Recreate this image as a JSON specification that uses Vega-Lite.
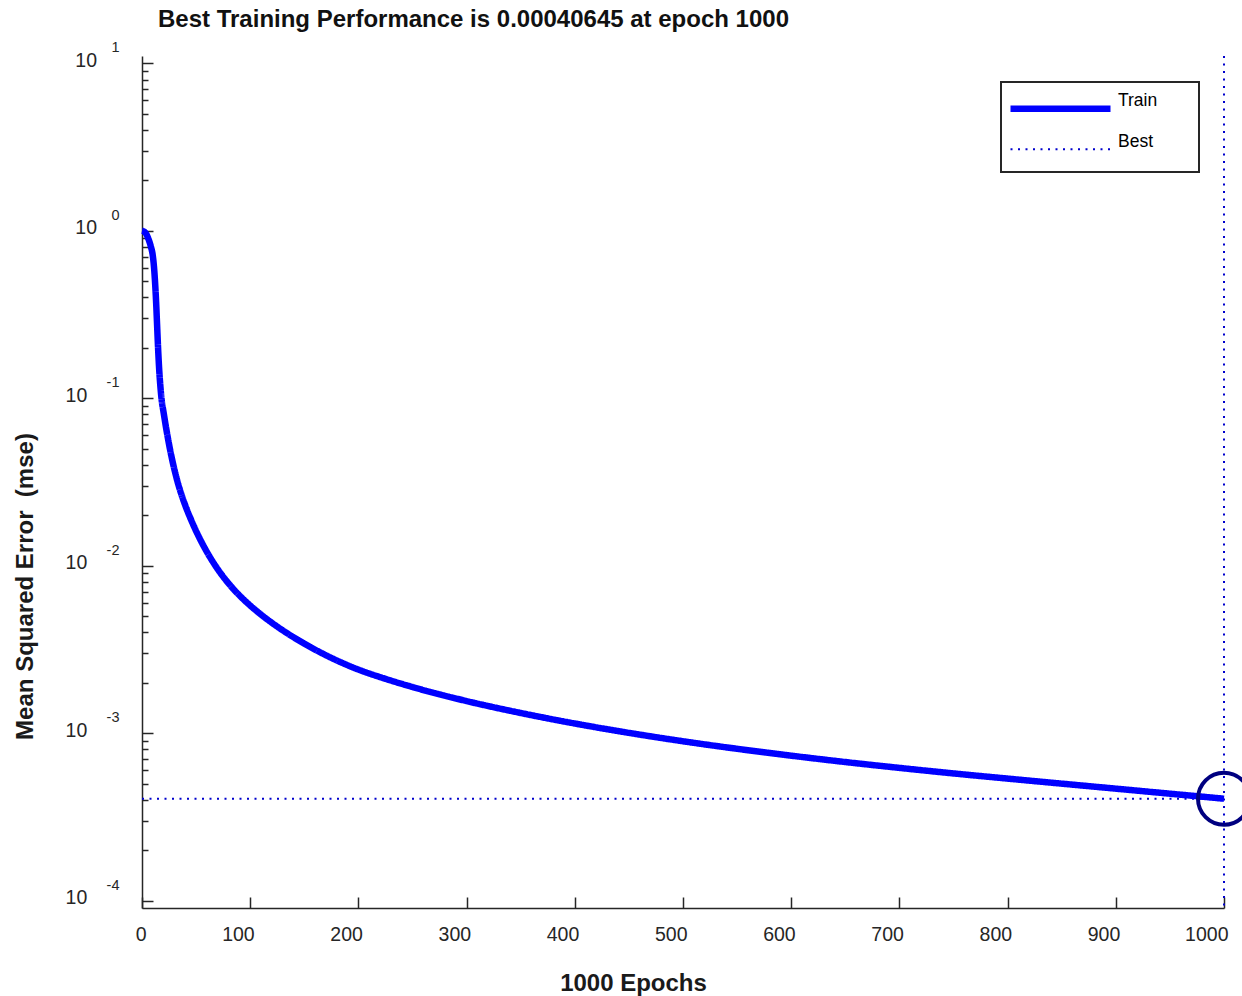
{
  "$schema": "https://vega.github.io/schema/vega-lite/v6.json",
  "width": 1082,
  "height": 852,
  "autosize": {"type": "none"},
  "padding": {"left": 142, "top": 56, "right": 18, "bottom": 88},
  "config": {
    "view": {"stroke": null},
    "font": "Liberation Sans",
    "axis": {"grid": false, "labelFlush": false, "labelOverlap": false, "labelBound": false, "domainColor": "#262626", "tickColor": "#262626", "labelColor": "#262626", "domainWidth": 1.5, "tickWidth": 1.5, "titleColor": "#1a1a1a", "labelFont": "Liberation Sans", "titleFont": "Liberation Sans"}
  },
  "title": {
    "text": "Best Training Performance is 0.00040645 at epoch 1000",
    "anchor": "start",
    "frame": "group",
    "dx": 16,
    "offset": -11,
    "baseline": "alphabetic",
    "fontSize": 24,
    "fontWeight": "bold",
    "color": "#111111",
    "font": "Liberation Sans"
  },
  "datasets": {
    "train": [
      {"epoch": 0, "mse": 1.0, "series": "Train"},
      {"epoch": 2, "mse": 0.9886, "series": "Train"},
      {"epoch": 4, "mse": 0.955, "series": "Train"},
      {"epoch": 6, "mse": 0.8913, "series": "Train"},
      {"epoch": 8, "mse": 0.8128, "series": "Train"},
      {"epoch": 10, "mse": 0.7079, "series": "Train"},
      {"epoch": 11, "mse": 0.6166, "series": "Train"},
      {"epoch": 12, "mse": 0.5012, "series": "Train"},
      {"epoch": 13, "mse": 0.3802, "series": "Train"},
      {"epoch": 14, "mse": 0.2692, "series": "Train"},
      {"epoch": 15, "mse": 0.1905, "series": "Train"},
      {"epoch": 16, "mse": 0.1445, "series": "Train"},
      {"epoch": 17, "mse": 0.1175, "series": "Train"},
      {"epoch": 18, "mse": 0.1, "series": "Train"},
      {"epoch": 20, "mse": 0.08194, "series": "Train"},
      {"epoch": 22, "mse": 0.06817, "series": "Train"},
      {"epoch": 24, "mse": 0.05748, "series": "Train"},
      {"epoch": 26, "mse": 0.04914, "series": "Train"},
      {"epoch": 28, "mse": 0.04261, "series": "Train"},
      {"epoch": 30, "mse": 0.03745, "series": "Train"},
      {"epoch": 33, "mse": 0.03151, "series": "Train"},
      {"epoch": 36, "mse": 0.02716, "series": "Train"},
      {"epoch": 40, "mse": 0.02291, "series": "Train"},
      {"epoch": 45, "mse": 0.01905, "series": "Train"},
      {"epoch": 50, "mse": 0.01612, "series": "Train"},
      {"epoch": 55, "mse": 0.01387, "series": "Train"},
      {"epoch": 60, "mse": 0.01209, "series": "Train"},
      {"epoch": 65, "mse": 0.01068, "series": "Train"},
      {"epoch": 70, "mse": 0.009539, "series": "Train"},
      {"epoch": 75, "mse": 0.00861, "series": "Train"},
      {"epoch": 80, "mse": 0.007842, "series": "Train"},
      {"epoch": 85, "mse": 0.007201, "series": "Train"},
      {"epoch": 90, "mse": 0.006659, "series": "Train"},
      {"epoch": 95, "mse": 0.006194, "series": "Train"},
      {"epoch": 100, "mse": 0.005788, "series": "Train"},
      {"epoch": 110, "mse": 0.005111, "series": "Train"},
      {"epoch": 120, "mse": 0.004566, "series": "Train"},
      {"epoch": 135, "mse": 0.003923, "series": "Train"},
      {"epoch": 150, "mse": 0.003428, "series": "Train"},
      {"epoch": 175, "mse": 0.002818, "series": "Train"},
      {"epoch": 200, "mse": 0.002399, "series": "Train"},
      {"epoch": 225, "mse": 0.002113, "series": "Train"},
      {"epoch": 250, "mse": 0.001888, "series": "Train"},
      {"epoch": 275, "mse": 0.001706, "series": "Train"},
      {"epoch": 300, "mse": 0.001556, "series": "Train"},
      {"epoch": 350, "mse": 0.001321, "series": "Train"},
      {"epoch": 400, "mse": 0.001143, "series": "Train"},
      {"epoch": 450, "mse": 0.001005, "series": "Train"},
      {"epoch": 500, "mse": 0.0008954, "series": "Train"},
      {"epoch": 550, "mse": 0.0008072, "series": "Train"},
      {"epoch": 600, "mse": 0.0007345, "series": "Train"},
      {"epoch": 650, "mse": 0.000673, "series": "Train"},
      {"epoch": 700, "mse": 0.0006209, "series": "Train"},
      {"epoch": 750, "mse": 0.0005754, "series": "Train"},
      {"epoch": 800, "mse": 0.0005358, "series": "Train"},
      {"epoch": 850, "mse": 0.0005, "series": "Train"},
      {"epoch": 900, "mse": 0.0004667, "series": "Train"},
      {"epoch": 950, "mse": 0.0004355, "series": "Train"},
      {"epoch": 1000, "mse": 0.00040645, "series": "Train"}
    ],
    "bestMse": [{"mse": 0.00040645, "series": "Best"}],
    "bestEpoch": [{"epoch": 1000, "series": "Best"}],
    "bestPoint": [{"epoch": 1000, "mse": 0.00040645}]
  },
  "layer": [
    {
      "data": {"name": "bestMse"},
      "mark": {"type": "rule", "strokeWidth": 2, "strokeCap": "butt"},
      "encoding": {
        "y": {"field": "mse", "type": "quantitative", "scale": {"type": "log", "domain": [0.00009045, 11.056], "nice": false},
          "axis": {"orient": "left", "values": [0.0002,0.0003,0.0004,0.0005,0.0006,0.0007,0.0008,0.0009,0.002,0.003,0.004,0.005,0.006,0.007,0.008,0.009,0.02,0.03,0.04,0.05,0.06,0.07,0.08,0.09,0.2,0.3,0.4,0.5,0.6,0.7,0.8,0.9,2,3,4,5,6,7,8,9], "tickSize": -6, "labels": false, "domain": false, "title": null}},
        "color": {"field": "series", "type": "nominal", "scale": {"domain": ["Train", "Best"], "range": ["#0000ff", "#0000cc"]},
          "legend": {
            "orient": "none", "legendX": 859, "legendY": 26, "title": null,
            "symbolType": "M-1.15,0H5.517", "symbolSize": 900, "padding": 18, "rowPadding": 10.5,
            "labelOffset": 81.5, "labelFontSize": 17.5, "labelColor": "#000000", "labelFont": "Liberation Sans",
            "strokeColor": "#262626", "fillColor": "#ffffff",
            "labelExpr": "datum.label === 'Train' ? 'Train\u00a0\u00a0\u00a0\u00a0\u2009\u200b' : datum.label",
            "encode": {
              "symbols": {"update": {"strokeWidth": {"signal": "datum.value === 'Train' ? 6.5 : 2"}}},
              "labels": {"update": {"dy": {"value": -7.5}}},
              "legend": {"update": {"strokeWidth": {"value": 2}}}
            }
          }},
        "strokeDash": {"field": "series", "type": "nominal", "scale": {"domain": ["Train", "Best"], "range": [[1, 0], [2, 5.5]]}}
      }
    },
    {
      "data": {"name": "bestEpoch"},
      "mark": {"type": "rule", "strokeWidth": 2, "strokeCap": "butt"},
      "encoding": {
        "x": {"field": "epoch", "type": "quantitative", "scale": {"domain": [0, 1000], "nice": false, "zero": false},
          "axis": {"orient": "bottom", "values": [0,100,200,300,400,500,600,700,800,900,1000], "tickSize": -11, "labels": false, "domain": true, "title": null}},
        "color": {"field": "series", "type": "nominal"},
        "strokeDash": {"field": "series", "type": "nominal"}
      }
    },
    {
      "data": {"name": "train"},
      "mark": {"type": "line", "strokeWidth": 6.5, "strokeCap": "butt", "interpolate": "monotone"},
      "encoding": {
        "x": {"field": "epoch", "type": "quantitative",
          "axis": {"orient": "bottom", "values": [0,100,200,300,400,500,600,700,800,900,1000], "format": "d", "ticks": false, "domain": false,
            "labelAlign": "right", "labelOffset": 4, "labelPadding": 17, "labelBaseline": "top", "labelFontSize": 19.5,
            "title": "1000 Epochs", "titleFontSize": 24, "titleFontWeight": "bold", "titleX": 491, "titleY": 75.4, "titleBaseline": "middle", "titleAlign": "center"}},
        "y": {"field": "mse", "type": "quantitative",
          "axis": {"orient": "left", "values": [0.0001, 0.001, 0.01, 0.1, 1, 10], "tickSize": -11, "labels": false, "domain": true, "title": null}},
        "color": {"field": "series", "type": "nominal"},
        "strokeDash": {"field": "series", "type": "nominal"}
      }
    },
    {
      "data": {"name": "bestPoint"},
      "mark": {"type": "point", "shape": "circle", "filled": false, "stroke": "#000080", "strokeWidth": 4, "size": 2704, "opacity": 1},
      "encoding": {
        "x": {"field": "epoch", "type": "quantitative", "axis": null},
        "y": {"field": "mse", "type": "quantitative",
          "axis": {"orient": "left", "values": [0.0001, 0.001, 0.01, 0.1, 1, 10], "ticks": false, "domain": false,
            "labelExpr": "datum.value < 0.5 ? '10\u2002\u200b' : '10'", "labelPadding": 45.5, "labelFontSize": 19.5, "labelAlign": "right", "labelBaseline": "middle", "labelOffset": -3,
            "title": "Mean Squared Error\u00a0 (mse)", "titleFontSize": 24, "titleFontWeight": "bold", "titleX": -116.6, "titleY": 530, "titleBaseline": "middle", "titleAlign": "center", "titleAngle": -90}}
      }
    },
    {
      "data": {"name": "bestPoint"},
      "mark": {"type": "point", "opacity": 0, "size": 1},
      "encoding": {
        "x": {"field": "epoch", "type": "quantitative", "axis": null},
        "y": {"field": "mse", "type": "quantitative",
          "axis": {"orient": "left", "values": [0.0001, 0.001, 0.01, 0.1, 1, 10], "ticks": false, "domain": false,
            "labelExpr": "'' + round(log(datum.value) / LN10)", "labelPadding": 23, "labelFontSize": 14.5, "labelAlign": "right", "labelBaseline": "middle", "labelOffset": -15.5, "title": null}}
      }
    }
  ],
  "resolve": {"axis": {"x": "independent", "y": "independent"}}
}
